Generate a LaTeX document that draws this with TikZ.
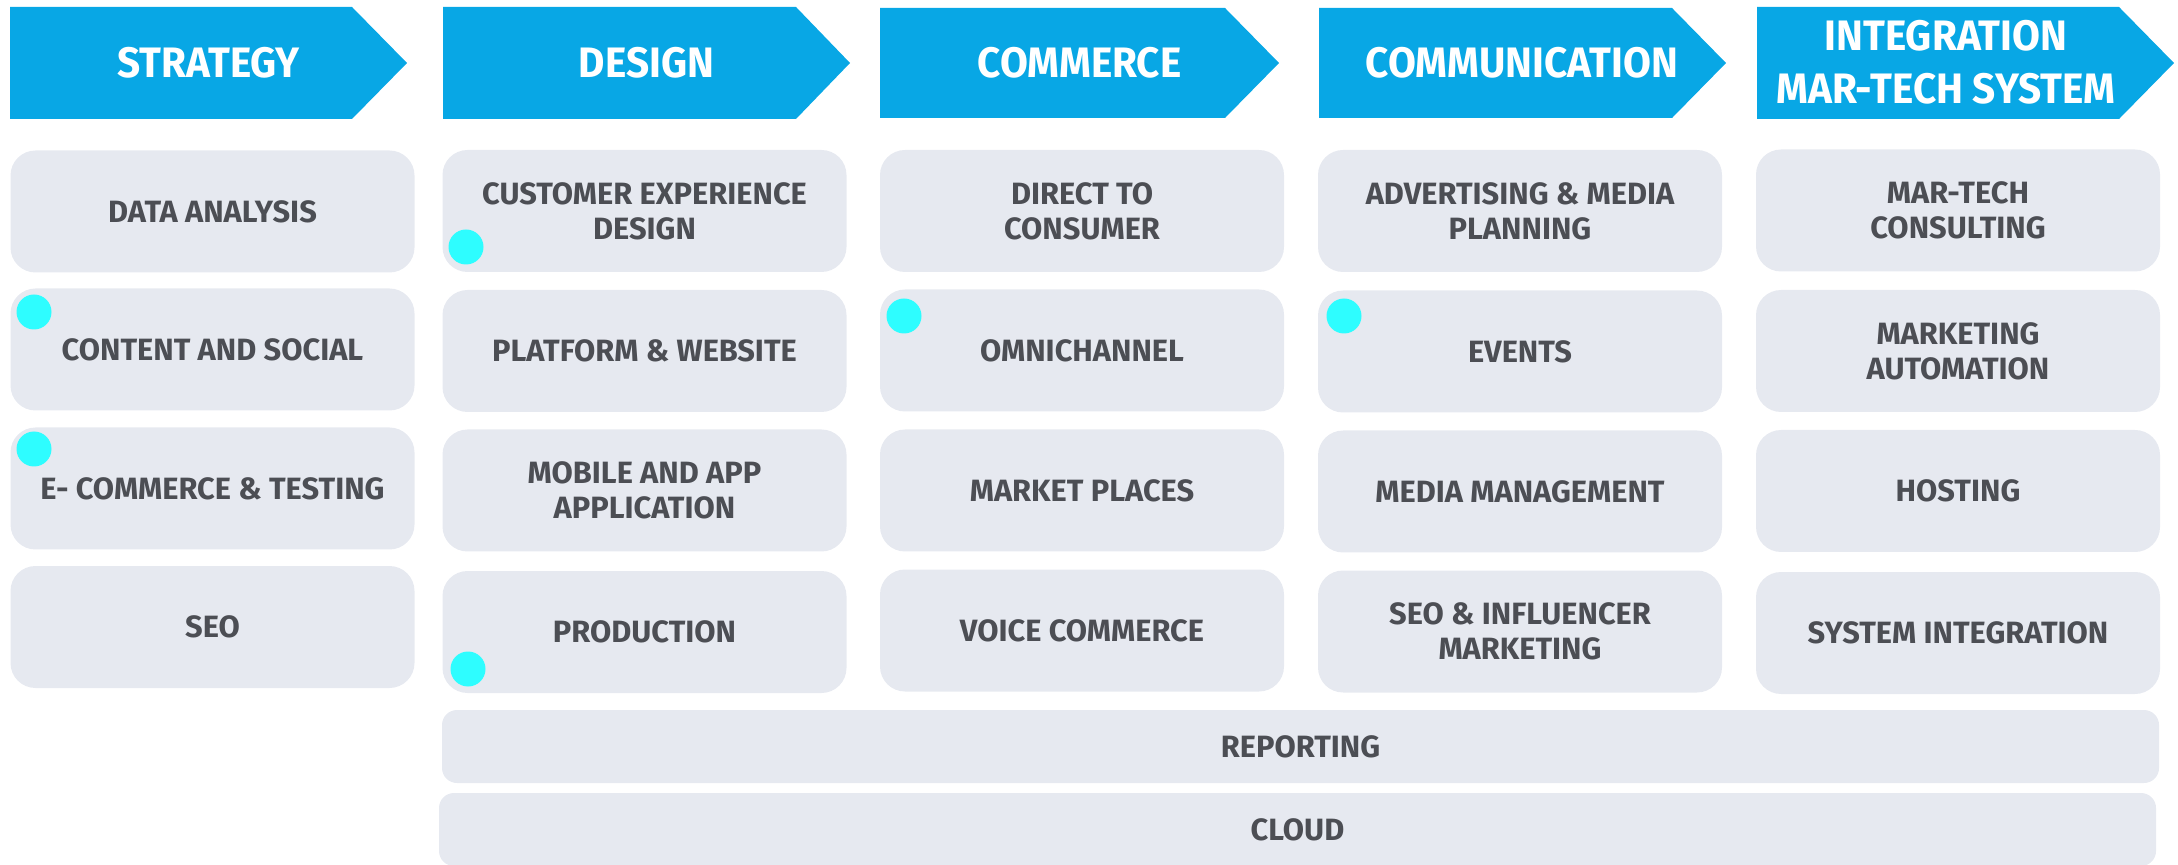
\documentclass[tikz,border=0pt]{standalone}
\usepackage{fontspec}
\setmainfont{Fira Sans Bold}
\newfontfamily\bannerfont{Fira Sans Bold}[FakeStretch=0.95]
\definecolor{bannerblue}{HTML}{08A7E5}
\definecolor{boxgray}{HTML}{E6E9F0}
\definecolor{txtgray}{HTML}{4C4E54}
\definecolor{dotcyan}{HTML}{2EFDFF}
\tikzset{
  cellbox/.style={fill=boxgray, rounded corners=12.5pt, minimum width=202pt, minimum height=61pt,
    text=txtgray, font=\fontsize{15.4}{17.5}\selectfont, align=center, inner sep=0pt},
  barbox/.style={fill=boxgray, rounded corners=7.5pt, minimum width=858.5pt, minimum height=36.5pt,
    text=txtgray, font=\fontsize{15.4}{17.5}\selectfont, align=center, inner sep=0pt},
  bannertext/.style={text=white, font=\bannerfont\fontsize{21.3}{26.5}\selectfont, align=center, inner sep=0pt},
  cyandot/.style={circle, fill=dotcyan, minimum size=17.5pt, inner sep=0pt},
  bannerfill/.style={fill=bannerblue}
}
\begin{document}
\begin{tikzpicture}[x=0.5pt,y=-0.5pt]
\useasboundingbox (0,0) rectangle (2178,865);
\clip (0,0) rectangle (2178,865);
% banners
\fill[bannerfill] (10,7) -- (352,7) -- (407,63) -- (352,119) -- (10,119) -- cycle;
\fill[bannerfill] (443,7) -- (796,7) -- (850,63) -- (796,119) -- (443,119) -- cycle;
\fill[bannerfill] (880,8) -- (1225,8) -- (1279,63) -- (1225,118) -- (880,118) -- cycle;
\fill[bannerfill] (1319,8) -- (1672,8) -- (1726,63) -- (1672,118) -- (1319,118) -- cycle;
\fill[bannerfill] (1757,7) -- (2119,7) -- (2174,63) -- (2119,119) -- (1757,119) -- cycle;
\node[bannertext] (hstrat) at (208.5,63) {STRATEGY};
\node[bannertext] (hdesign) at (646.5,63) {DESIGN};
\node[bannertext] (hcomm) at (1079.5,63) {COMMERCE};
\node[bannertext] (hcommu) at (1522,63) {COMMUNICATION};
\node[bannertext] (hinteg) at (1946,62) {INTEGRATION\\MAR-TECH SYSTEM};
% strategy column
\node[cellbox] (s1) at (212.5,211.5) {DATA ANALYSIS};
\node[cellbox] (s2) at (212.5,349.5) {CONTENT AND SOCIAL};
\node[cellbox] (s3) at (212.5,488.5) {E- COMMERCE \& TESTING};
\node[cellbox] (s4) at (212.5,627) {SEO};
% design column
\node[cellbox] (d1) at (644.5,211) {CUSTOMER EXPERIENCE\\DESIGN};
\node[cellbox] (d2) at (644.5,351) {PLATFORM \& WEBSITE};
\node[cellbox] (d3) at (644.5,490.5) {MOBILE AND APP\\APPLICATION};
\node[cellbox] (d4) at (644.5,632) {PRODUCTION};
% commerce column
\node[cellbox] (c1) at (1082,211) {DIRECT TO\\CONSUMER};
\node[cellbox] (c2) at (1082,350.5) {OMNICHANNEL};
\node[cellbox] (c3) at (1082,490.5) {MARKET PLACES};
\node[cellbox] (c4) at (1082,630.5) {VOICE COMMERCE};
% communication column
\node[cellbox] (m1) at (1520,211) {ADVERTISING \& MEDIA\\PLANNING};
\node[cellbox] (m2) at (1520,351.5) {EVENTS};
\node[cellbox] (m3) at (1520,491.5) {MEDIA MANAGEMENT};
\node[cellbox] (m4) at (1520,631.5) {SEO \& INFLUENCER\\MARKETING};
% integration column
\node[cellbox] (i1) at (1958,210.5) {MAR-TECH\\CONSULTING};
\node[cellbox] (i2) at (1958,351) {MARKETING\\AUTOMATION};
\node[cellbox] (i3) at (1958,491) {HOSTING};
\node[cellbox] (i4) at (1958,633) {SYSTEM INTEGRATION};
% bottom bars
\node[barbox] (rep) at (1300.5,746.5) {REPORTING};
\node[barbox] (cloud) at (1297.5,829.5) {CLOUD};
% cyan dots
\node[cyandot] (dot1) at (466,247) {};
\node[cyandot] (dot2) at (34,312) {};
\node[cyandot] (dot3) at (34,449) {};
\node[cyandot] (dot4) at (468,669) {};
\node[cyandot] (dot5) at (904,316) {};
\node[cyandot] (dot6) at (1344,316) {};
\end{tikzpicture}
\end{document}
